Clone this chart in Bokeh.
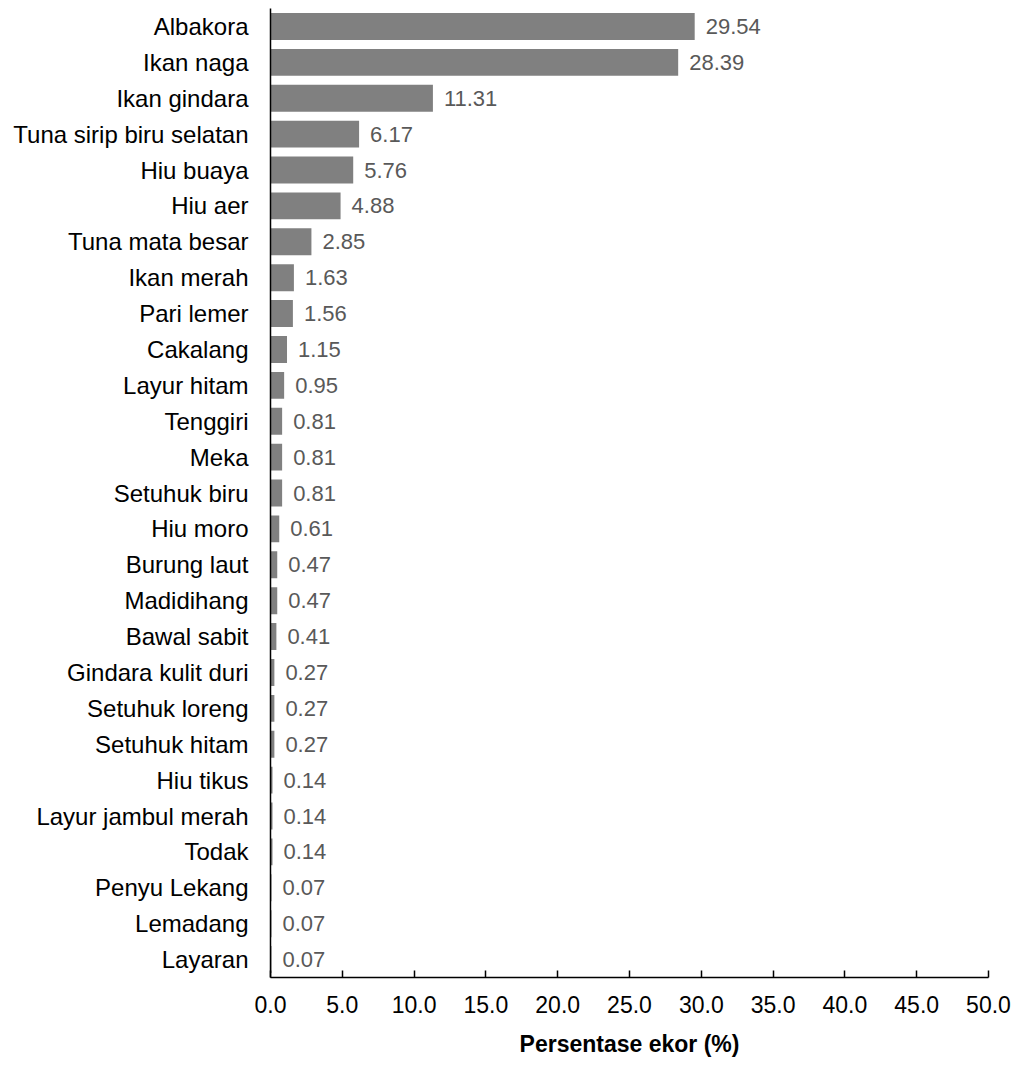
from bokeh.plotting import figure
from bokeh.models import ColumnDataSource, FactorRange, Range1d, FixedTicker, PrintfTickFormatter
from bokeh.core.properties import value
from bokeh.embed import file_html
from bokeh.resources import INLINE

categories = ["Albakora", "Ikan naga", "Ikan gindara", "Tuna sirip biru selatan", "Hiu buaya",
              "Hiu aer", "Tuna mata besar", "Ikan merah", "Pari lemer", "Cakalang",
              "Layur hitam", "Tenggiri", "Meka", "Setuhuk biru", "Hiu moro",
              "Burung laut", "Madidihang", "Bawal sabit", "Gindara kulit duri", "Setuhuk loreng",
              "Setuhuk hitam", "Hiu tikus", "Layur jambul merah", "Todak", "Penyu Lekang",
              "Lemadang", "Layaran"]
values = [29.54, 28.39, 11.31, 6.17, 5.76, 4.88, 2.85, 1.63, 1.56, 1.15,
          0.95, 0.81, 0.81, 0.81, 0.61, 0.47, 0.47, 0.41, 0.27, 0.27,
          0.27, 0.14, 0.14, 0.14, 0.07, 0.07, 0.07]
x_ticks = [0, 5, 10, 15, 20, 25, 30, 35, 40, 45, 50]
x_title = "Persentase ekor (%)"

FONT = "Liberation Sans"

src = ColumnDataSource(dict(cat=categories, val=values, lab=[f"{v:.2f}" for v in values]))

p = figure(width=1017, height=1065, output_backend="svg", toolbar_location=None,
           y_range=FactorRange(*reversed(categories)), x_range=Range1d(0, 50),
           min_border_left=270, min_border_right=29, min_border_top=8, min_border_bottom=88,
           outline_line_color=None, background_fill_color="white", border_fill_color="white")

p.hbar(y="cat", right="val", left=0, height=0.75, source=src,
       fill_color="#808080", line_color=None)

p.text(x="val", y="cat", text="lab", source=src, x_offset=11,
       text_baseline="middle", text_align="left",
       text_font=value(FONT), text_font_size="22px", text_color="#595959")

p.xgrid.visible = False
p.ygrid.visible = False
p.y_range.range_padding = 0
p.y_range.group_padding = 0

xa = p.xaxis[0]
xa.ticker = FixedTicker(ticks=x_ticks)
xa.formatter = PrintfTickFormatter(format="%.1f")
xa.major_tick_in = 7
xa.major_tick_out = 0
xa.minor_tick_line_color = None
xa.axis_line_color = "black"
xa.axis_line_width = 1.5
xa.major_tick_line_color = "black"
xa.major_tick_line_width = 1.5
xa.major_label_text_font = FONT
xa.major_label_text_font_size = "23px"
xa.major_label_text_color = "black"
xa.major_label_standoff = 18
xa.axis_label = x_title
xa.axis_label_text_font = FONT
xa.axis_label_text_font_style = "bold"
xa.axis_label_text_font_size = "23px"
xa.axis_label_text_color = "black"
xa.axis_label_standoff = 15

ya = p.yaxis[0]
ya.major_tick_in = 0
ya.major_tick_out = 0
ya.minor_tick_line_color = None
ya.axis_line_color = "black"
ya.axis_line_width = 1.5
ya.major_label_text_font = FONT
ya.major_label_text_font_size = "24px"
ya.major_label_text_color = "black"
ya.major_label_standoff = 22

open("out.html", "w").write(file_html(p, INLINE))
